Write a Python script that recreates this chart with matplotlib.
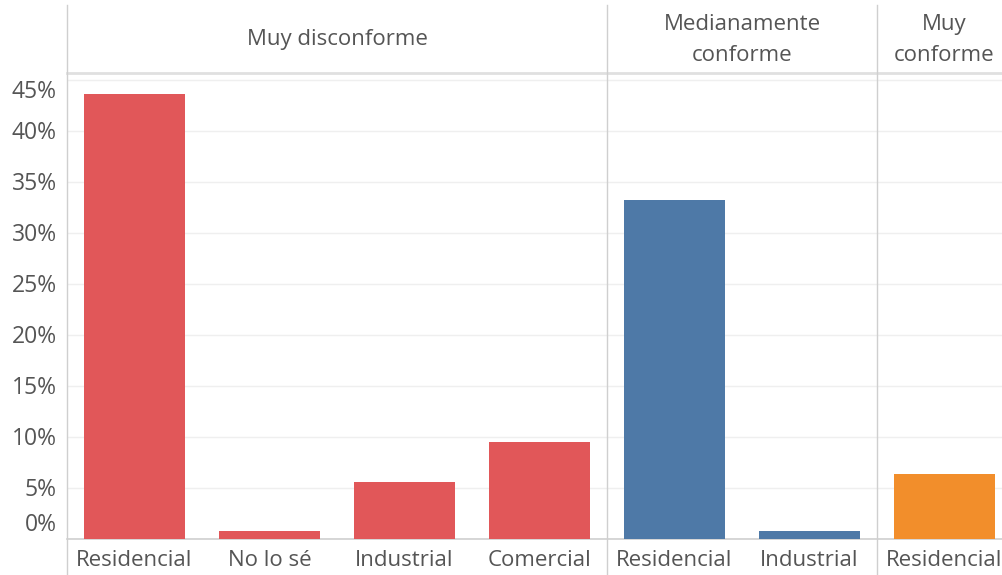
import matplotlib
matplotlib.use("Agg")
import matplotlib.pyplot as plt
from matplotlib.lines import Line2D
from matplotlib.transforms import offset_copy, blended_transform_factory

# ---- data ----
groups = ["Muy disconforme", "Medianamente\nconforme", "Muy\nconforme"]
group_sizes = [4, 2, 1]
categories = ["Residencial", "No lo sé", "Industrial", "Comercial",
              "Residencial", "Industrial", "Residencial"]
values = [43.6, 0.8, 5.6, 9.5, 33.2, 0.8, 6.4]
group_colors = ["#E15759", "#4E79A7", "#F28E2B"]
yticks = [0, 5, 10, 15, 20, 25, 30, 35, 40, 45]
ytick_labels = ["0%", "5%", "10%", "15%", "20%", "25%", "30%", "35%", "40%", "45%"]

W, H = 1002, 575
fig = plt.figure(figsize=(W / 100, H / 100), dpi=100)
plt.rcParams['font.family'] = ['Open Sans', 'DejaVu Sans']
txt_color = "#555555"
line_color = "#cfcfcf"

# axes in pixel coords: x 67..1012, y 73..539 (from top)
x0, x1 = 67, 1012
yt, yb = 73, 539
ax = fig.add_axes([x0 / W, (H - yb) / H, (x1 - x0) / W, (yb - yt) / H])

colors = []
for c, n in zip(group_colors, group_sizes):
    colors += [c] * n
xs = list(range(len(values)))
ax.bar(xs, values, width=0.75, color=colors, zorder=3)

ax.set_xlim(-0.5, len(values) - 0.5)
ax.set_ylim(0, 45.7)
for s in ["top", "right", "left"]:
    ax.spines[s].set_visible(False)
ax.spines["bottom"].set_color(line_color)
ax.spines["bottom"].set_linewidth(1.2)

ax.set_yticks(yticks)
ax.set_yticklabels([])
ax.tick_params(axis="y", length=0)
ax.yaxis.grid(True, color="#efefef", linewidth=1, zorder=0)
ax.set_xticks(xs)
ax.set_xticklabels(categories, fontsize=16, color=txt_color)
ax.tick_params(axis="x", length=0, pad=8)

# y tick labels (Tableau-style shifted end labels)
ytr = ax.get_yaxis_transform()
for v, lab in zip(yticks, ytick_labels):
    if v == 0:
        dy = 14
    elif v == yticks[-1]:
        dy = -12
    else:
        dy = -2
    tr = offset_copy(ytr, fig=fig, x=-10, y=dy, units="dots")
    ax.text(0, v, lab, transform=tr, ha="right", va="center",
            fontsize=16.5, color=txt_color)

# header separator line
fig.add_artist(Line2D([x0 / W, 1], [(H - 73) / H] * 2, color="#e0e0e0", lw=2))

# vertical divider lines
bounds = [-0.5]
for n in group_sizes:
    bounds.append(bounds[-1] + n)
for b in bounds[:-1]:
    px = x0 + (b + 0.5) * (x1 - x0) / len(values)
    fig.add_artist(Line2D([px / W] * 2, [0, (H - 5) / H], color=line_color, lw=1))

# header labels
htr = blended_transform_factory(ax.transData, fig.transFigure)
for g, b0, n in zip(groups, bounds[:-1], group_sizes):
    cx = b0 + n / 2
    ax.text(cx, (H - 40) / H, g, transform=htr, ha="center", va="center",
            fontsize=16, color=txt_color, linespacing=1.58)

fig.savefig("out.png", dpi=100)
